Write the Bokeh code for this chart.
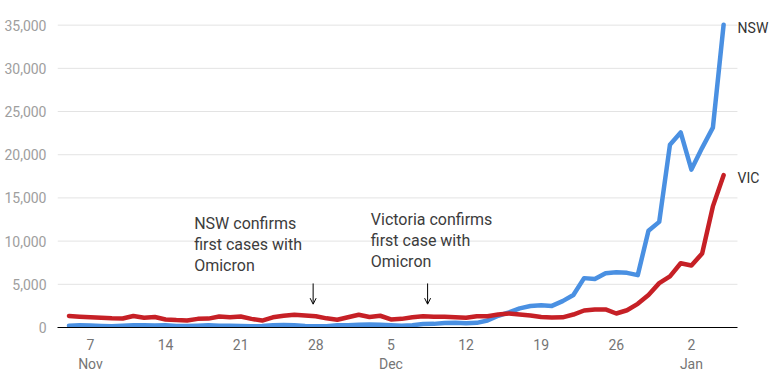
import pandas as pd
from bokeh.plotting import figure
from bokeh.models import (FixedTicker, NumeralTickFormatter, Range1d, Label, Arrow, OpenHead)
from bokeh.embed import file_html
from bokeh.resources import INLINE

# ---- data ----
start_date = "2021-11-05"
end_date = "2022-01-05"
nsw_cases = [216, 249, 238, 185, 158, 216, 261, 250, 236, 250, 176, 163, 211, 261, 216, 204, 173, 141,
             180, 251, 276, 261, 185, 150, 150, 251,
             271, 313, 337, 325, 271, 208, 260, 403, 420, 516, 560, 485, 536, 804, 1360, 1742, 2213,
             2482, 2566, 2501, 3057, 3763, 5715, 5612, 6288, 6394, 6324, 6062, 11201, 12226, 21151,
             22577, 18278, 20794, 23131, 35054]
vic_cases = [1340, 1250, 1180, 1130, 1060, 1040, 1330, 1140, 1220, 930, 860, 820, 1000, 1030, 1270, 1200,
             1270, 1000, 800, 1180, 1350, 1470, 1400, 1310, 1060, 890,
             1190, 1470, 1220, 1360, 930, 1000, 1180, 1310, 1250, 1240, 1200, 1120, 1300, 1300, 1500,
             1620, 1500, 1390, 1220, 1160, 1180, 1500, 1970, 2080, 2090, 1620, 1999, 2738, 3767, 5137,
             5919, 7442, 7172, 8577, 14020, 17636]
tick_dates = ["2021-11-07", "2021-11-14", "2021-11-21", "2021-11-28", "2021-12-05",
              "2021-12-12", "2021-12-19", "2021-12-26", "2022-01-02"]
tick_labels = ["7\nNov", "14", "21", "28", "5\nDec", "12", "19", "26", "2\nJan"]
y_ticks = [0, 5000, 10000, 15000, 20000, 25000, 30000, 35000]
series_names = ["NSW", "VIC"]
series_colors = ["#4a90e2", "#c62026"]

annotations = [
    ("NSW confirms\nfirst cases with\nOmicron", "2021-11-16 16:00", 13100, "2021-11-27 18:00"),
    ("Victoria confirms\nfirst case with\nOmicron", "2021-12-03 03:00", 13550, "2021-12-08 10:00"),
]

dates = pd.date_range(start_date, end_date, freq="D")

def ms(d):
    return pd.Timestamp(d).value // 10**6

x_start = ms(pd.Timestamp(start_date) - pd.Timedelta(hours=25.7))
axis_end = ms(pd.Timestamp(end_date) + pd.Timedelta(hours=31))
x_end = ms(pd.Timestamp(end_date) + pd.Timedelta(hours=125))

p = figure(width=779, height=384, x_axis_type="datetime", output_backend="svg",
           toolbar_location=None, x_range=Range1d(x_start, x_end), y_range=Range1d(0, 36000),
           min_border_left=57, min_border_right=0, min_border_top=16, min_border_bottom=57)
p.outline_line_color = None
p.background_fill_color = "white"
p.xgrid.grid_line_color = None
p.ygrid.grid_line_color = None

# horizontal gridlines limited to the axis extent
grid_vals = y_ticks[1:]
p.segment(x0=[x_start] * len(grid_vals), x1=[axis_end] * len(grid_vals), y0=grid_vals, y1=grid_vals,
          line_color="#e3e3e3", line_width=1)

for name, vals, col in zip(series_names, [nsw_cases, vic_cases], series_colors):
    p.line(dates, vals, line_color=col, line_width=4.5, line_join="round", line_cap="round")
    p.add_layout(Label(x=ms(dates[-1]), y=vals[-1], text=name, x_offset=14, y_offset=-3,
                       text_font="Roboto", text_font_size="14px", text_color="#333333",
                       text_baseline="middle", text_align="left"))

# axes
tick_ms = [ms(d) for d in tick_dates]
p.xaxis.ticker = FixedTicker(ticks=tick_ms)
p.xaxis.major_label_overrides = {t: lab for t, lab in zip(tick_ms, tick_labels)}
p.xaxis.bounds = (x_start, axis_end)
p.xaxis.major_tick_line_color = None
p.xaxis.minor_tick_line_color = None
p.xaxis.axis_line_color = "black"
p.xaxis.axis_line_width = 1
p.xaxis.major_label_text_font = "Roboto"
p.xaxis.major_label_text_font_size = "14px"
p.xaxis.major_label_text_color = "#757575"
p.xaxis.major_label_standoff = 3

p.yaxis.ticker = FixedTicker(ticks=y_ticks)
p.yaxis.formatter = NumeralTickFormatter(format="0,0")
p.yaxis.axis_line_color = None
p.yaxis.major_tick_line_color = None
p.yaxis.minor_tick_line_color = None
p.yaxis.major_label_text_font = "Roboto"
p.yaxis.major_label_text_font_size = "14px"
p.yaxis.major_label_text_color = "#9e9e9e"
p.yaxis.major_label_standoff = 5

for text, tx, ty, ax in annotations:
    p.add_layout(Label(x=ms(tx), y=ty, text=text, text_font="Roboto", text_font_size="16px",
                       text_color="#3c3c3c", text_baseline="top", text_align="left",
                       text_line_height=1.1))
    p.add_layout(Arrow(x_start=ms(ax), y_start=5100, x_end=ms(ax), y_end=2700,
                       line_color="black", line_width=1,
                       end=OpenHead(size=6, line_color="black", line_width=1)))

open("out.html", "w").write(file_html(p, INLINE))
